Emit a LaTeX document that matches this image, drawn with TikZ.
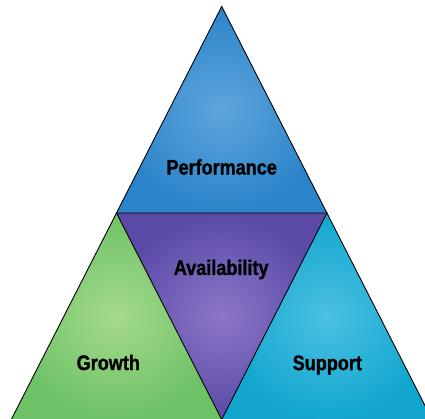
\documentclass[tikz,border=0pt]{standalone}
\usepackage{fontspec}
\newfontfamily\condfont[FakeStretch=0.86,FakeBold=1.2]{Liberation Sans}
\begin{document}
\begin{tikzpicture}[x=1pt,y=-1pt,
  edge/.style={draw=black,line width=0.9pt,line join=miter},
  lbl/.style={font=\condfont\bfseries\fontsize{21}{24}\selectfont,text=black,inner sep=0pt}]
\useasboundingbox (0,0) rectangle (425,419);
\clip (0,0) rectangle (425,419);
\fill[white] (0,0) rectangle (425,419);
\coordinate (A) at (221.7,6.5);
\coordinate (ML) at (116.5,213);
\coordinate (MR) at (326.9,213);
\coordinate (BL) at (11.3,419.5);
\coordinate (BM) at (221.7,419.5);
\coordinate (BR) at (432.1,419.5);
\shade[inner color={rgb,255:red,95;green,165;blue,220},outer color={rgb,255:red,42;green,132;blue,202}] (A) -- (ML) -- (MR) -- cycle;
\shade[inner color={rgb,255:red,140;green,118;blue,200},outer color={rgb,255:red,90;green,74;blue,166}] (ML) -- (MR) -- (BM) -- cycle;
\shade[inner color={rgb,255:red,165;green,218;blue,140},outer color={rgb,255:red,110;green,194;blue,102}] (ML) -- (BL) -- (BM) -- cycle;
\shade[inner color={rgb,255:red,75;green,192;blue,226},outer color={rgb,255:red,18;green,166;blue,206}] (MR) -- (BM) -- (BR) -- cycle;
\draw[edge] (A) -- (BL) -- (BR) -- cycle;
\draw[edge] (ML) -- (MR) -- (BM) -- cycle;
\node[lbl] (perf) at (221.7,167) {Performance};
\node[lbl] (avail) at (221.2,269.5) {Availability};
\node[lbl] (grow) at (108.3,362.5) {Growth};
\node[lbl] (supp) at (327.3,365) {Support};
\end{tikzpicture}
\end{document}
